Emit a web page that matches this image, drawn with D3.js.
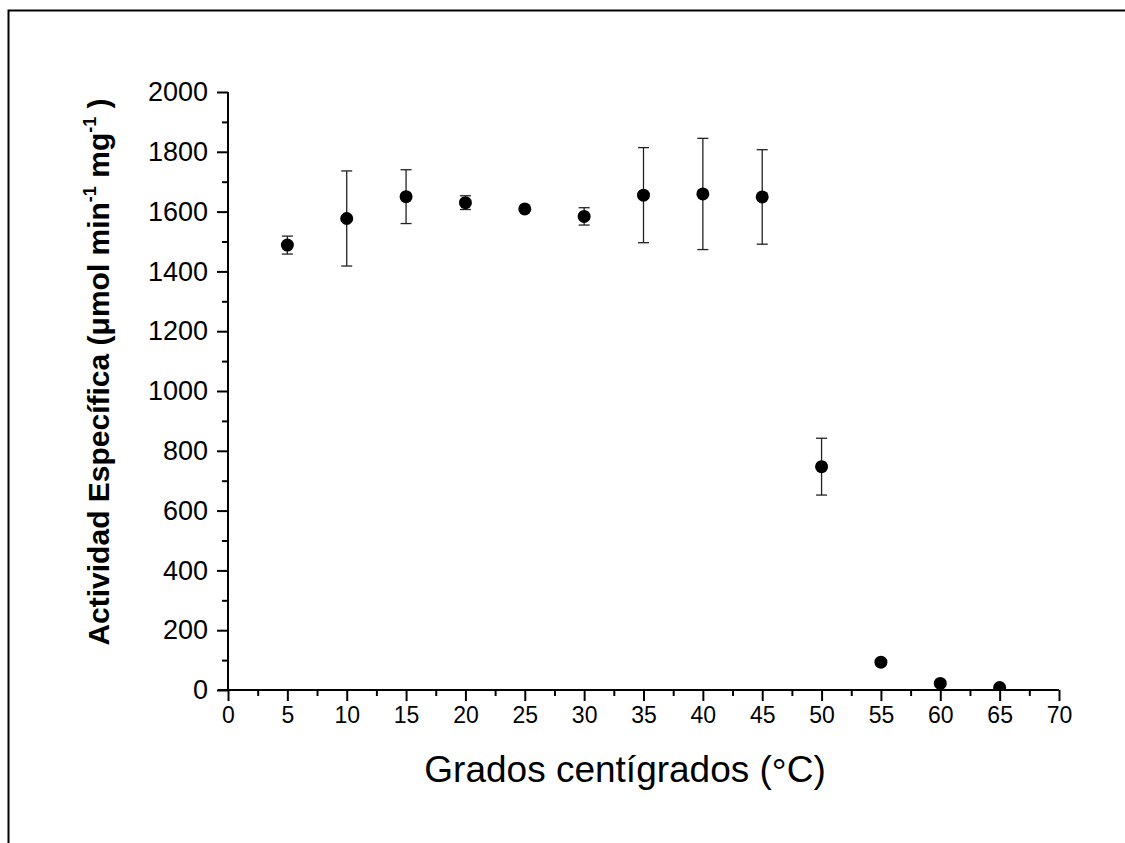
<!DOCTYPE html>
<html>
<head>
<meta charset="utf-8">
<script src="https://cdn.jsdelivr.net/npm/d3@7"></script>
<style>
  html, body { margin: 0; padding: 0; background: #fff; }
  svg { display: block; }
  text { font-family: "Liberation Sans", Arial, sans-serif; fill: #000; }
</style>
</head>
<body>
<svg id="chart" width="1125" height="843"></svg>
<script>
// ---- data ----
const temperatures = [5, 10, 15, 20, 25, 30, 35, 40, 45, 50, 55, 60, 65];
const activity     = [1488, 1577, 1650, 1630, 1609, 1584, 1655, 1659, 1649, 747, 93, 22, 8];
const errors       = [30, 159, 90, 23, 0, 29, 159, 186, 158, 95, 8, 0, 0];
const xTicks = [0, 5, 10, 15, 20, 25, 30, 35, 40, 45, 50, 55, 60, 65, 70];
const yTicks = [0, 200, 400, 600, 800, 1000, 1200, 1400, 1600, 1800, 2000];
const xMinorTicks = [2.5, 7.5, 12.5, 17.5, 22.5, 27.5, 32.5, 37.5, 42.5, 47.5, 52.5, 57.5, 62.5, 67.5];
const yMinorTicks = [100, 300, 500, 700, 900, 1100, 1300, 1500, 1700, 1900];

// ---- layout ----
const svg = d3.select("#chart");
const pLeft = 228, pRight = 1059, pTop = 92, pBottom = 690;
const FONT = "'Liberation Sans', Arial, sans-serif";

// frame
svg.append("rect")
  .attr("x", 8.5).attr("y", 10.5)
  .attr("width", 1140).attr("height", 860)
  .attr("fill", "none").attr("stroke", "#000").attr("stroke-width", 2);

const x = d3.scaleLinear().domain([0, 70]).range([pLeft, pRight]);
const y = d3.scaleLinear().domain([0, 2000]).range([pBottom, pTop]);

// clip
svg.append("clipPath").attr("id", "plotclip")
  .append("rect").attr("x", pLeft).attr("y", pTop - 20)
  .attr("width", pRight - pLeft + 10).attr("height", pBottom - pTop + 19);

// x axis
const gx = svg.append("g").attr("transform", `translate(0,${pBottom})`);
gx.call(d3.axisBottom(x).tickValues(xTicks).tickSize(11).tickPadding(6).tickFormat(d3.format("d")));
gx.attr("font-family", FONT);
gx.select(".domain").attr("stroke-width", 2).attr("d", `M${pLeft - 10},0H${pRight}`);
gx.selectAll(".tick line").attr("stroke-width", 2);
gx.selectAll(".tick text").style("font-size", "23px");
const gxm = svg.append("g").attr("transform", `translate(0,${pBottom})`);
gxm.call(d3.axisBottom(x).tickValues(xMinorTicks).tickSize(6).tickFormat(""));
gxm.select(".domain").remove();
gxm.selectAll(".tick line").attr("stroke-width", 2);

// y axis
const gy = svg.append("g").attr("transform", `translate(${pLeft},0)`);
gy.call(d3.axisLeft(y).tickValues(yTicks).tickSize(11).tickPadding(9).tickFormat(d3.format("d")));
gy.attr("font-family", FONT);
gy.select(".domain").attr("stroke-width", 2).attr("d", `M0,${pBottom}V${pTop}`);
gy.selectAll(".tick line").attr("stroke-width", 2);
gy.selectAll(".tick text").style("font-size", "27px");
const gym = svg.append("g").attr("transform", `translate(${pLeft},0)`);
gym.call(d3.axisLeft(y).tickValues(yMinorTicks).tickSize(6).tickFormat(""));
gym.select(".domain").remove();
gym.selectAll(".tick line").attr("stroke-width", 2);

// axis titles
const xl = svg.append("text")
  .attr("x", 625).attr("y", 782)
  .attr("text-anchor", "middle")
  .style("font-size", "37px");
xl.append("tspan").text("Grados centígrados (");
xl.append("tspan").attr("dy", 3).text("°");
xl.append("tspan").attr("dy", -3).text("C)");

const yl = svg.append("text")
  .attr("transform", "translate(109,372) rotate(-90)")
  .attr("text-anchor", "middle")
  .style("font-size", "30px").style("font-weight", "bold");
yl.append("tspan").text("Actividad Específica (\u03BCmol min");
yl.append("tspan").attr("dy", -13).style("font-size", "18px").text("-1");
yl.append("tspan").attr("dy", 13).text(" mg");
yl.append("tspan").attr("dy", -13).style("font-size", "18px").text("-1");
yl.append("tspan").attr("dy", 13).text(" )");

// data
const pts = temperatures.map((t, i) => ({ t, v: activity[i], e: errors[i] }));
const bars = svg.append("g").selectAll("g.err").data(pts.filter(d => d.e > 0)).join("g").attr("class", "err")
  .attr("stroke", "#222").attr("stroke-width", 1.3);
bars.append("line")
  .attr("x1", d => x(d.t)).attr("x2", d => x(d.t))
  .attr("y1", d => y(d.v + d.e)).attr("y2", d => y(d.v - d.e));
bars.append("line")
  .attr("x1", d => x(d.t) - 5.5).attr("x2", d => x(d.t) + 5.5)
  .attr("y1", d => y(d.v + d.e)).attr("y2", d => y(d.v + d.e));
bars.append("line")
  .attr("x1", d => x(d.t) - 5.5).attr("x2", d => x(d.t) + 5.5)
  .attr("y1", d => y(d.v - d.e)).attr("y2", d => y(d.v - d.e));

svg.append("g").attr("clip-path", "url(#plotclip)")
  .selectAll("circle").data(pts).join("circle")
  .attr("cx", d => x(d.t)).attr("cy", d => y(d.v))
  .attr("r", 6.5).attr("fill", "#000");
</script>
</body>
</html>
